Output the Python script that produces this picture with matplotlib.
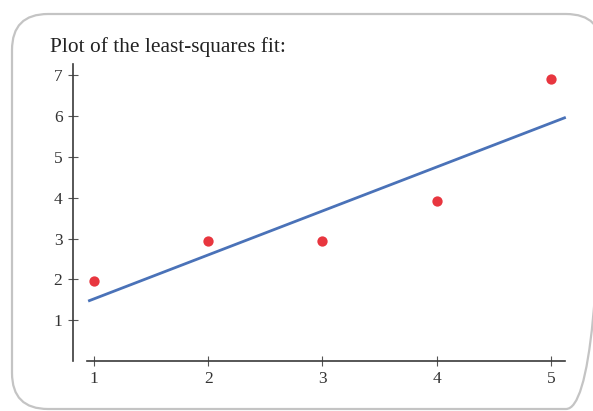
import matplotlib.pyplot as plt
from matplotlib.patches import FancyBboxPatch

# data
x_pts = [1, 2, 3, 4, 5]
y_pts = [1.97, 2.95, 2.93, 3.93, 6.9]
line_x = [0.96, 5.12]
line_y = [1.48, 5.96]
x_ticks = [1, 2, 3, 4, 5]
y_ticks = [1, 2, 3, 4, 5, 6, 7]

W, H = 593, 411
fig = plt.figure(figsize=(W / 100, H / 100), dpi=100)

# background axes in pixel units, only for the rounded frame
bg = fig.add_axes([0, 0, 1, 1])
bg.set_xlim(0, W)
bg.set_ylim(H, 0)
bg.axis("off")
bg.add_patch(FancyBboxPatch((12, 14), 590, 395,
                            boxstyle="round,pad=0,rounding_size=36",
                            facecolor="none", edgecolor="#c4c4c4", lw=1.6))

fig.text(50 / W, 1 - 52 / H, "Plot of the least-squares fit:",
         family="Liberation Serif", fontsize=15.4, color="#222222")

# axes placed so data units land where they sit in the picture
x0, x1 = 0.7, 5.3
y0, y1 = -0.5, 7.5
px = lambda v: 94 + (v - 1) * 114.2
py = lambda v: 361 - v * 40.8
ax = fig.add_axes([px(x0) / W, 1 - py(y0) / H,
                   (px(x1) - px(x0)) / W, (py(y0) - py(y1)) / H])
ax.set_xlim(x0, x1)
ax.set_ylim(y0, y1)
ax.patch.set_alpha(0)

ax.plot(line_x, line_y, color="#4a72b8", lw=2)
ax.scatter(x_pts, y_pts, s=55, color="#e8363f", zorder=3, linewidths=0)

axis_col = "#3a3a3a"
for s in ["top", "right"]:
    ax.spines[s].set_visible(False)
ax.spines["left"].set_position(("data", 0.815))
ax.spines["left"].set_bounds(0, 7.27)
ax.spines["bottom"].set_position(("data", 0))
ax.spines["bottom"].set_bounds(0.94, 5.12)
for s in ["left", "bottom"]:
    ax.spines[s].set_color(axis_col)
    ax.spines[s].set_linewidth(1.2)

ax.set_xticks(x_ticks)
ax.set_yticks(y_ticks)
ax.tick_params(direction="inout", length=7, width=0.8, color="#555555",
               labelsize=12.5, labelcolor="#333333", pad=4)
for lab in ax.get_xticklabels() + ax.get_yticklabels():
    lab.set_family("Liberation Serif")

fig.savefig("out.png", dpi=100, facecolor="white")
